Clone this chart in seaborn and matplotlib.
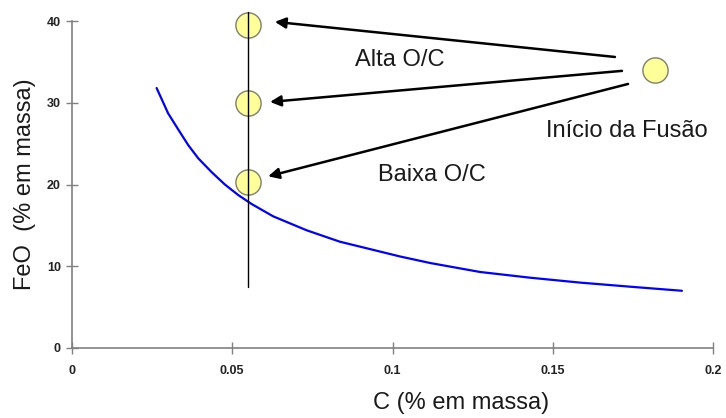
import matplotlib
matplotlib.use("Agg")
import matplotlib.pyplot as plt
import seaborn as sns
import pandas as pd

# Curve data (C wt%, FeO wt%)
curve_c = [0.0264, 0.0300, 0.0332, 0.0363, 0.0394, 0.0436, 0.0477, 0.0519,
           0.0561, 0.0628, 0.0732, 0.0836, 0.0940, 0.1023, 0.1117, 0.1273,
           0.1429, 0.1585, 0.1741, 0.1903]
curve_feo = [31.8, 28.7, 26.7, 24.8, 23.2, 21.5, 20.0, 18.7,
             17.6, 16.1, 14.4, 13.0, 12.0, 11.2, 10.4, 9.3,
             8.6, 8.0, 7.5, 7.0]

# Points
pts_c = [0.055, 0.055, 0.055, 0.182]
pts_feo = [39.5, 30.0, 20.3, 34.0]

# Vertical line at C = 0.055
vline_c = 0.055
vline_feo = [7.5, 41.1]

x_ticks = [0, 0.05, 0.1, 0.15, 0.2]
x_labels = ["0", "0.05", "0.1", "0.15", "0.2"]
y_ticks = [0, 10, 20, 30, 40]
y_labels = ["0", "10", "20", "30", "40"]

sns.set_style("white")
plt.rcParams["font.family"] = ["Liberation Sans", "DejaVu Sans"]

fig = plt.figure(figsize=(7.26, 4.18), dpi=100)
ax = fig.add_axes([72/726, 70/418, (713-72)/726, (348-21)/418])

df = pd.DataFrame({"C": curve_c, "FeO": curve_feo})
sns.lineplot(data=df, x="C", y="FeO", ax=ax, color="#0000ff", lw=1.6, sort=True)

sns.scatterplot(x=pts_c, y=pts_feo, ax=ax, s=330, color="#ffff99",
                edgecolor="#7f7f6a", linewidth=1.0, zorder=4, clip_on=False)

ax.plot([vline_c, vline_c], vline_feo, color="black", lw=1.0, clip_on=False, zorder=5)

arrows = [((0.1694, 35.6), (0.0633, 39.9)),
          ((0.1716, 33.9), (0.0618, 30.1)),
          ((0.1735, 32.3), (0.0612, 21.0))]
for tail, head in arrows:
    ax.annotate("", xy=head, xytext=tail,
                arrowprops=dict(arrowstyle="-|>", color="black", lw=1.8,
                                mutation_scale=16, shrinkA=0, shrinkB=0),
                annotation_clip=False)

fs = 17
ax.text(0.1023, 35.2, "Alta O/C", fontsize=fs, ha="center", va="center", color="#1a1a1a")
ax.text(0.1123, 21.2, "Baixa O/C", fontsize=fs, ha="center", va="center", color="#1a1a1a")
ax.text(0.1732, 26.5, "Início da Fusão", fontsize=fs, ha="center", va="center", color="#1a1a1a")

ax.set_xlim(0, 0.2)
ax.set_ylim(0, 40)
ax.set_xticks(x_ticks)
ax.set_xticklabels(x_labels)
ax.set_yticks(y_ticks)
ax.set_yticklabels(y_labels)
for lab in ax.get_xticklabels() + ax.get_yticklabels():
    lab.set_fontweight("bold")
    lab.set_fontsize(9)
    lab.set_color("#222222")
ax.tick_params(axis="both", direction="inout", length=8, width=1.0, color="#808080",
               bottom=True, left=True)
ax.tick_params(axis="x", pad=8)
ax.tick_params(axis="y", pad=4)

for side in ["top", "right"]:
    ax.spines[side].set_visible(False)
for side in ["left", "bottom"]:
    ax.spines[side].set_color("#808080")
    ax.spines[side].set_linewidth(1.2)

ax.set_xlabel("C (% em massa)", fontsize=fs, color="#1a1a1a")
ax.xaxis.set_label_coords((461-72)/(713-72), -(403-348)/(348-21))
ax.xaxis.label.set_va("center")
ax.set_ylabel("FeO  (% em massa)", fontsize=fs, color="#1a1a1a")
ax.yaxis.set_label_coords(-(72-25)/(713-72), 0.5)
ax.yaxis.label.set_va("center")

fig.savefig("out.png", dpi=100)
